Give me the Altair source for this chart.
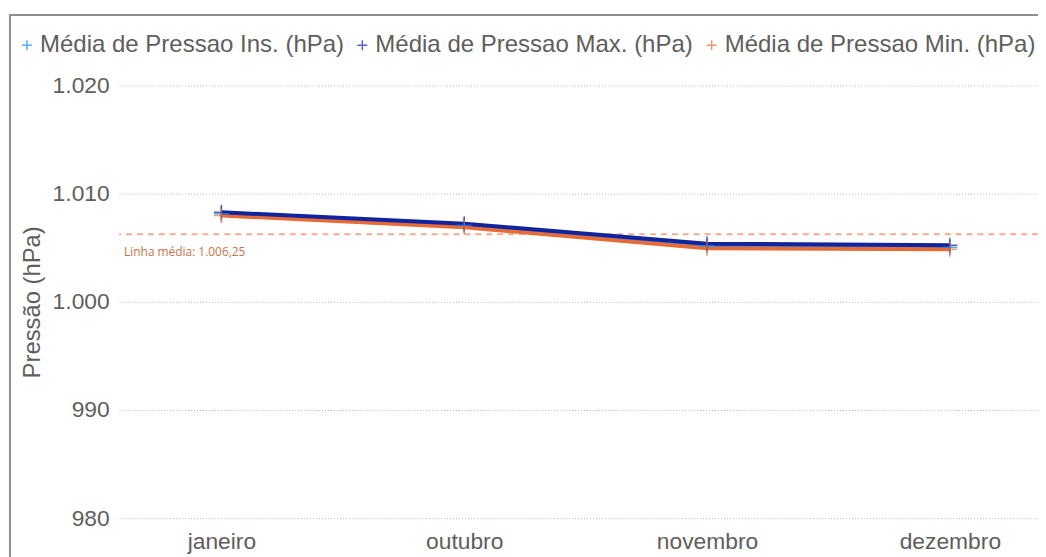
import altair as alt
import pandas as pd

MONTHS = ["janeiro", "outubro", "novembro", "dezembro"]
SERIES = [
    "Média de Pressao Ins. (hPa)",
    "Média de Pressao Max. (hPa)",
    "Média de Pressao Min. (hPa)",
]
INS = [1008.15, 1007.08, 1005.18, 1005.05]
MAX = [1008.28, 1007.22, 1005.38, 1005.23]
MIN = [1007.98, 1006.90, 1004.95, 1004.86]
COLORS = ["#118DFF", "#12239E", "#E66C37"]
AVG_VALUE = [1006.25]
AVG_LABEL = ["Linha média: 1.006,25"]
Y_TICKS = [980, 990, 1000, 1010, 1020]

rows = []
for s, vals in zip(SERIES, [INS, MAX, MIN]):
    for i, (m, v) in enumerate(zip(MONTHS, vals)):
        rows.append({"mes": m, "idx": i, "serie": s, "valor": v})
df = pd.DataFrame(rows)
avg_df = pd.DataFrame({"valor": AVG_VALUE, "rotulo": AVG_LABEL})

FONT = "Liberation Sans"
TXT = "#605E5C"
CROSS = "M-1,0L1,0M0,-1L0,1"
month_js = "[" + ",".join("'" + m + "'" for m in MONTHS) + "]"

x_enc = alt.X(
    "idx:Q",
    scale=alt.Scale(domain=[-0.421, 3.363], nice=False, zero=False),
    axis=alt.Axis(
        title=None, domain=False, ticks=False, grid=False, labelAngle=0,
        values=list(range(len(MONTHS))),
        labelExpr=month_js + "[datum.value]",
        labelFont=FONT, labelFontSize=23, labelColor=TXT, labelPadding=13,
    ),
)
y_enc = alt.Y(
    "valor:Q",
    scale=alt.Scale(domain=[980, 1020], nice=False, zero=False),
    axis=alt.Axis(
        title="Pressão (hPa)", values=Y_TICKS, domain=False, ticks=False,
        labelExpr="replace(format(datum.value, ','), ',', '.')",
        labelFont=FONT, labelFontSize=23, labelColor=TXT, labelPadding=10,
        gridColor="#B4B4B4", gridDash=[1, 2], gridWidth=1,
        titleFont=FONT, titleFontSize=24, titleColor=TXT, titleFontWeight="normal",
        titleX=-87, titleY=218, titleBaseline="middle", titleAngle=270,
    ),
)
color_enc = alt.Color(
    "serie:N",
    scale=alt.Scale(domain=SERIES, range=COLORS),
    legend=alt.Legend(
        title=None, orient="none", direction="horizontal", legendX=-105, legendY=-53,
        symbolType=CROSS, symbolSize=100, symbolStrokeWidth=1.5, symbolFillColor="transparent",
        labelFont=FONT, labelFontSize=24.2, labelColor=TXT, labelOffset=1,
        columnPadding=6, labelLimit=600,
    ),
)

base = alt.Chart(df)

frame = alt.Chart(pd.DataFrame({"k": [0]})).mark_rect(
    fill="transparent", stroke="#8E8E8E", strokeWidth=2
).encode(
    x=alt.value(-110), x2=alt.value(1300), y=alt.value(-71), y2=alt.value(900)
)

avg_rule = alt.Chart(avg_df).mark_rule(
    color="#E66C37", opacity=0.55, strokeDash=[6, 5], strokeWidth=2
).encode(y=alt.Y("valor:Q"))

avg_text = alt.Chart(avg_df).mark_text(
    align="left", baseline="middle", dy=18, fontSize=12, font="Segoe UI, Open Sans",
    color="#C8734A",
).encode(x=alt.value(5), y=alt.Y("valor:Q"), text="rotulo:N")

lines = []
for s in [SERIES[0], SERIES[2], SERIES[1]]:
    lines.append(
        base.transform_filter(alt.datum.serie == s)
        .mark_line(strokeWidth=4)
        .encode(x=x_enc, y=y_enc, color=color_enc)
    )

points = base.mark_point(
    shape=CROSS, filled=False, size=225, strokeWidth=1.5, opacity=0.7
).encode(x=x_enc, y=y_enc, color=color_enc)

chart = alt.layer(frame, avg_rule, avg_text, *lines, points).properties(
    width=926,
    height=436,
    autosize=alt.AutoSizeParams(type="none"),
    padding={"left": 112, "top": 76, "right": 0, "bottom": 37},
).configure(background="white").configure_view(stroke=None)

chart.save("out.html", embed_options={"renderer": "svg", "actions": False})
